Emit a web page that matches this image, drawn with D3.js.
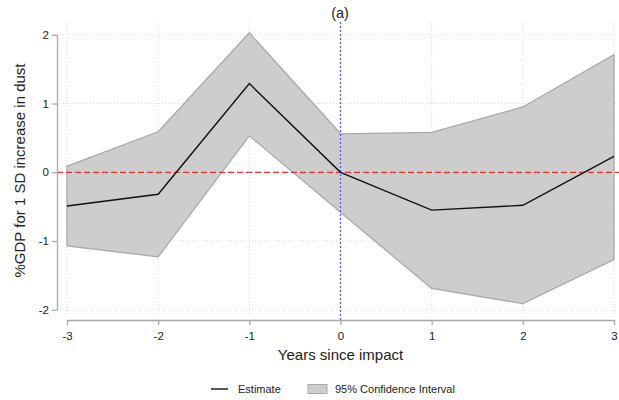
<!DOCTYPE html>
<html>

<head>
    <meta charset="utf-8">
    <title></title>
    <script src="https://d3js.org/d3.v7.min.js"></script>
    <style>
        html,
        body {
            margin: 0;
            padding: 0;
            background: #fff;
        }

        text {
            font-family: 'Liberation Sans', Arial, sans-serif;
            fill: #222;
        }
    </style>
</head>

<body>

    <div id="chart"></div>

    <script>
        // Data
        const years = [-3, -2, -1, 0, 1, 2, 3];
        const estimate = [-0.49, -0.32, 1.29, 0.0, -0.55, -0.48, 0.23];
        const upper = [0.09, 0.59, 2.03, 0.56, 0.58, 0.95, 1.71];
        const lower = [-1.07, -1.23, 0.53, -0.58, -1.69, -1.91, -1.27];
        const xTicks = [-3, -2, -1, 0, 1, 2, 3];
        const yTicks = [-2, -1, 0, 1, 2];

        const data = years.map((yr, i) => ({ yr: yr, est: estimate[i], hi: upper[i], lo: lower[i] }));

        const width = 619, height = 400;

        const svg = d3.select("#chart")
            .append("svg")
            .attr("width", width)
            .attr("height", height);

        // Scales
        const x = d3.scaleLinear().domain([-3, 3]).range([67, 614]);
        const y = d3.scaleLinear().domain([-2, 2]).range([309.8, 34.8]);

        const plotLeft = 57, plotRight = 617, plotTop = 22, plotBottom = 314;

        // Grid lines (dotted)
        svg.append("g")
            .selectAll("line")
            .data(yTicks)
            .enter()
            .append("line")
            .attr("x1", plotLeft)
            .attr("x2", plotRight)
            .attr("y1", d => y(d))
            .attr("y2", d => y(d))
            .attr("stroke", "#d8d8d8")
            .attr("stroke-width", 1)
            .attr("stroke-dasharray", "1,2");

        svg.append("g")
            .selectAll("line")
            .data(xTicks)
            .enter()
            .append("line")
            .attr("x1", d => x(d))
            .attr("x2", d => x(d))
            .attr("y1", plotTop)
            .attr("y2", plotBottom)
            .attr("stroke", "#d8d8d8")
            .attr("stroke-width", 1)
            .attr("stroke-dasharray", "1,2");

        // Confidence band
        const area = d3.area()
            .x(d => x(d.yr))
            .y0(d => y(d.lo))
            .y1(d => y(d.hi));

        svg.append("path")
            .datum(data)
            .attr("d", area)
            .attr("fill", "#cdcdcd")
            .attr("stroke", "#a9a9a9")
            .attr("stroke-width", 1.3);

        // Zero reference line (red dashed)
        svg.append("line")
            .attr("x1", plotLeft)
            .attr("x2", 619)
            .attr("y1", y(0))
            .attr("y2", y(0))
            .attr("stroke", "#ee3333")
            .attr("stroke-width", 1.2)
            .attr("stroke-dasharray", "6,3");

        // Impact line (blue dotted)
        svg.append("line")
            .attr("x1", x(0))
            .attr("x2", x(0))
            .attr("y1", plotTop)
            .attr("y2", 320)
            .attr("stroke", "#5a5aff")
            .attr("stroke-width", 1.3)
            .attr("stroke-dasharray", "2,2");

        // Estimate line
        const line = d3.line()
            .x(d => x(d.yr))
            .y(d => y(d.est));

        svg.append("path")
            .datum(data)
            .attr("d", line)
            .attr("fill", "none")
            .attr("stroke", "#111")
            .attr("stroke-width", 1.4);

        // Y axis
        const yAxis = svg.append("g")
            .attr("transform", `translate(${plotLeft},0)`)
            .call(d3.axisLeft(y)
                .tickValues(yTicks)
                .tickFormat(d => String(d))
                .tickSize(5)
                .tickPadding(3)
                .tickSizeOuter(0));

        // X axis
        const xAxis = svg.append("g")
            .attr("transform", "translate(0,320)")
            .call(d3.axisBottom(x)
                .tickValues(xTicks)
                .tickFormat(d => String(d))
                .tickSize(5)
                .tickPadding(7)
                .tickSizeOuter(0));

        [yAxis, xAxis].forEach(g => {
            g.select(".domain").attr("stroke", "#a8a8a8").attr("stroke-width", 1.3);
            g.selectAll(".tick line").attr("stroke", "#a8a8a8").attr("stroke-width", 1.3);
            g.selectAll(".tick text")
                .style("font-family", "'Liberation Sans', Arial, sans-serif")
                .style("font-size", "11.5px")
                .attr("fill", "#222");
        });

        // Titles
        svg.append("text")
            .attr("x", 340)
            .attr("y", 18)
            .attr("text-anchor", "middle")
            .style("font-size", "14.5px")
            .text("(a)");

        svg.append("text")
            .attr("x", 340.5)
            .attr("y", 360)
            .attr("text-anchor", "middle")
            .style("font-size", "15px")
            .text("Years since impact");

        svg.append("text")
            .attr("transform", "translate(24.5,170.5) rotate(-90)")
            .attr("text-anchor", "middle")
            .style("font-size", "15px")
            .text("%GDP for 1 SD increase in dust");

        // Legend
        const legend = svg.append("g");

        legend.append("line")
            .attr("x1", 211)
            .attr("x2", 228)
            .attr("y1", 389)
            .attr("y2", 389)
            .attr("stroke", "#111")
            .attr("stroke-width", 1.4);

        legend.append("text")
            .attr("x", 238)
            .attr("y", 393)
            .style("font-size", "11px")
            .text("Estimate");

        legend.append("rect")
            .attr("x", 308)
            .attr("y", 384.5)
            .attr("width", 19)
            .attr("height", 9)
            .attr("fill", "#cdcdcd")
            .attr("stroke", "#a9a9a9")
            .attr("stroke-width", 1);

        legend.append("text")
            .attr("x", 335)
            .attr("y", 393)
            .style("font-size", "11px")
            .text("95% Confidence Interval");
    </script>
</body>

</html>
